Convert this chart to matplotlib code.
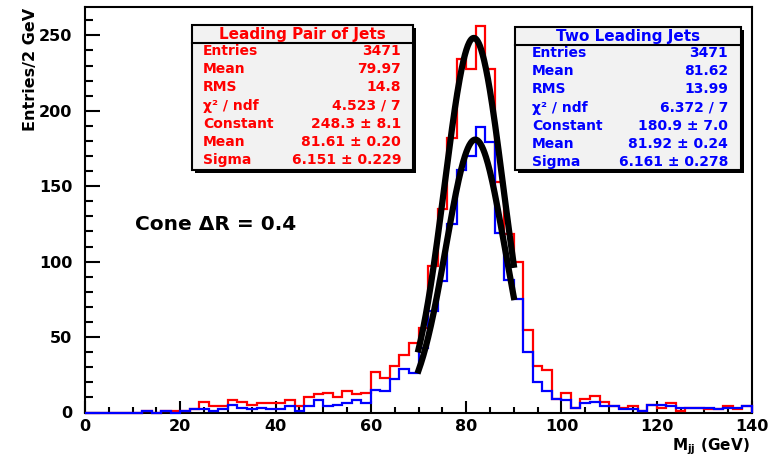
import numpy as np
import matplotlib
matplotlib.use("Agg")
import matplotlib.pyplot as plt
from matplotlib.patches import Rectangle
from matplotlib.lines import Line2D
from matplotlib.ticker import MultipleLocator

# 2 GeV bins from 0 to 140
bin_edges = np.arange(0, 142, 2)

# "Leading Pair of Jets" (red)
pair_counts = [0, 0, 0, 0, 0, 0,
               1, 0, 1, 1, 1, 2, 7, 4, 4, 8, 7, 5, 6, 6, 6, 8, 4, 10, 12, 13, 10, 14, 12, 13,
               27, 23, 31, 38, 46, 56, 97, 135, 182, 234, 228, 256, 228, 153, 118, 100, 55, 31, 28, 9,
               13, 3, 9, 11, 7, 4, 3, 4, 1, 5, 3, 6, 1, 3, 3, 2, 2, 4, 2, 4]

# "Two Leading Jets" (blue)
lead_counts = [0, 0, 0, 0, 0, 0,
               1, 0, 1, 0, 1, 2, 2, 1, 2, 5, 3, 2, 3, 2, 2, 4, 1, 4, 8, 4, 5, 6, 8, 6,
               15, 14, 22, 29, 26, 43, 67, 87, 125, 161, 170, 189, 179, 119, 88, 75, 40, 20, 14, 9,
               8, 3, 6, 7, 4, 4, 2, 2, 1, 5, 5, 4, 3, 3, 3, 3, 2, 3, 3, 4]

# gaussian fit results: constant, mean, sigma ; fit range
pair_fit = [248.3, 81.61, 6.151]
lead_fit = [180.9, 81.92, 6.161]
fit_range = [70, 90]

stat_labels = ["Entries", "Mean", "RMS", "\u03c7\u00b2 / ndf", "Constant", "Mean", "Sigma"]
pair_values = ["3471", "79.97", "14.8", "4.523 / 7", "248.3 \u00b1 8.1", "81.61 \u00b1 0.20", "6.151 \u00b1 0.229"]
lead_values = ["3471", "81.62", "13.99", "6.372 / 7", "180.9 \u00b1 7.0", "81.92 \u00b1 0.24", "6.161 \u00b1 0.278"]

plt.rcParams['font.family'] = ['DejaVu Sans']
plt.rcParams['font.weight'] = 'bold'
plt.rcParams['mathtext.fontset'] = 'dejavusans'

W, H = 776, 458


def fx(x):
    return x / W


def fy(y):
    return 1 - y / H


def gauss(x, p):
    return p[0] * np.exp(-0.5 * ((x - p[1]) / p[2]) ** 2)


def stats_box(fig, x0, x1, y0, y1, ysep, title, values, color, row0, lx, vx):
    fig.add_artist(Rectangle((fx(x0 + 3), fy(y1 + 3)), fx(x1 - x0), (y1 - y0) / H,
                             transform=fig.transFigure, facecolor="black", edgecolor="none", zorder=5))
    fig.add_artist(Rectangle((fx(x0), fy(y1)), fx(x1 - x0), (y1 - y0) / H,
                             transform=fig.transFigure, facecolor="#f2f2f2", edgecolor="black",
                             linewidth=1.5, zorder=6))
    fig.add_artist(Line2D([fx(x0), fx(x1)], [fy(ysep), fy(ysep)], transform=fig.transFigure,
                          color="black", linewidth=1.5, zorder=7))
    fig.text(fx((x0 + x1) / 2), fy((y0 + ysep) / 2), title, color=color, fontsize=11,
             ha="center", va="center", zorder=8)
    for i, (lab, val) in enumerate(zip(stat_labels, values)):
        yy = row0 + i * 18.2
        fig.text(fx(lx), fy(yy), lab, color=color, fontsize=10, ha="left", va="center", zorder=8)
        fig.text(fx(vx), fy(yy), val, color=color, fontsize=10, ha="right", va="center", zorder=8)


def plot_masses():
    fig = plt.figure(figsize=(W / 100, H / 100), dpi=100)
    ax = fig.add_axes([fx(85), fy(412.5), (752 - 85) / W, (412.5 - 7) / H])

    ax.stairs(pair_counts, bin_edges, color="#ff0000", linewidth=1.6, zorder=3, clip_on=False)
    ax.stairs(lead_counts, bin_edges, color="#0000ff", linewidth=1.6, zorder=3, clip_on=False)

    xf = np.linspace(fit_range[0], fit_range[1], 200)
    ax.plot(xf, gauss(xf, pair_fit), color="black", linewidth=4.5, zorder=4)
    ax.plot(xf, gauss(xf, lead_fit), color="black", linewidth=4.5, zorder=4)

    ax.set_xlim(0, 140)
    ax.set_ylim(0, 1.05 * max(pair_counts))
    ax.xaxis.set_major_locator(MultipleLocator(20))
    ax.xaxis.set_minor_locator(MultipleLocator(5))
    ax.yaxis.set_major_locator(MultipleLocator(50))
    ax.yaxis.set_minor_locator(MultipleLocator(10))
    ax.tick_params(which="both", direction="in", top=False, right=False, width=1.5, color="black")
    ax.tick_params(axis="x", which="major", length=8.6, pad=5, labelsize=11.5)
    ax.tick_params(axis="x", which="minor", length=4.3)
    ax.tick_params(axis="y", which="major", length=10.8, pad=9, labelsize=11.5)
    ax.tick_params(axis="y", which="minor", length=5.8)
    for s in ax.spines.values():
        s.set_linewidth(1.5)

    stats_box(fig, 192, 413, 25, 170, 43, "Leading Pair of Jets", pair_values, "#ff0000", 51, 203, 401)
    stats_box(fig, 515, 741, 27, 170, 45, "Two Leading Jets", lead_values, "#0000ff", 53, 532, 728)

    fig.text(fx(135), fy(225), "Cone \u0394R = 0.4", fontsize=14.5, ha="left", va="center")
    fig.text(fx(30), fy(8), "Entries/2 GeV", rotation=90, fontsize=11.5, ha="center", va="top")
    fig.text(fx(750), fy(447), r"$\mathbf{M_{jj}}$ (GeV)", fontsize=11, ha="right", va="center")

    fig.savefig("out.png", dpi=100)


if __name__ == "__main__":
    plot_masses()
